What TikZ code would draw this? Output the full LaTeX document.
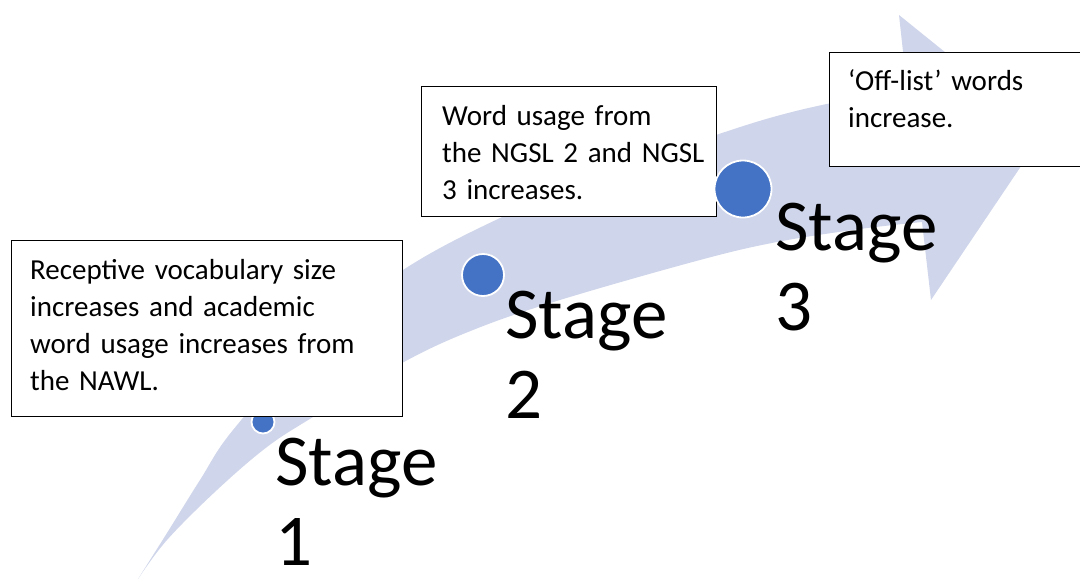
\documentclass[tikz,border=0pt]{standalone}
\usepackage{fontspec}
\setmainfont{Carlito}
\definecolor{arrowfill}{HTML}{CFD5EA}
\definecolor{dotblue}{HTML}{4472C4}
\begin{document}
\begin{tikzpicture}[x=1pt,y=-1pt,
  dot/.style={circle,fill=dotblue,draw=white,line width=1.8pt,inner sep=0pt,minimum size=#1},
  notebox/.style={draw=black,line width=1.2pt,fill=white,anchor=north west,inner sep=0pt},
  notetext/.style={anchor=base west,inner sep=0pt,text width=380pt,align=left,
    font=\fontsize{29}{37.3}\selectfont},
  stagetext/.style={anchor=base west,inner sep=0pt,text width=200pt,align=left,
    font=\fontsize{73}{80.5}\selectfont}]
\useasboundingbox (0,0) rectangle (1080,581);
\clip (0,0) rectangle (1080,581);

% curved upward arrow
\fill[arrowfill]
  plot[smooth,tension=0.6] coordinates {(138,579) (167,533) (200,480) (233,430) (310,345)
      (400,272) (500,218) (600,177) (716,135) (800,110) (907,88)}
  -- (899,15) -- (1044,132) -- (931,300) -- (922,222)
  -- plot[smooth,tension=0.6] coordinates {(922,222) (860,229) (777,242) (700,260) (560,300)
      (473,330) (402,363) (313,417) (267,447) (217,490) (167,540) (138,579)}
  -- cycle;

% stage 1
\node[dot=23pt] (dot1) at (263,422) {};
\node[notebox,minimum width=391pt,minimum height=176pt] (box1) at (11,240) {};
\node[notetext] (note1) at (30,279)
  {Receptive vocabulary size\\increases and academic\\word usage increases from\\the NAWL.};

% stage 2
\node[notebox,minimum width=295pt,minimum height=130pt] (box2) at (421,86) {};
\node[notetext] (note2) at (442,125)
  {Word usage from\\the NGSL 2 and NGSL\\3 increases.};
\node[dot=42pt] (dot2) at (483,275) {};

% stage 3
\node[dot=57pt] (dot3) at (743,189) {};
\node[notebox,minimum width=260pt,minimum height=114pt] (box3) at (829,52) {};
\node[notetext] (note3) at (848,90)
  {‘Off-list’ words\\increase.};

% stage labels
\node[stagetext] (stage1) at (275,485) {Stage\\1};
\node[stagetext] (stage2) at (505,338) {Stage\\2};
\node[stagetext] (stage3) at (775,250) {Stage\\3};
\end{tikzpicture}
\end{document}
